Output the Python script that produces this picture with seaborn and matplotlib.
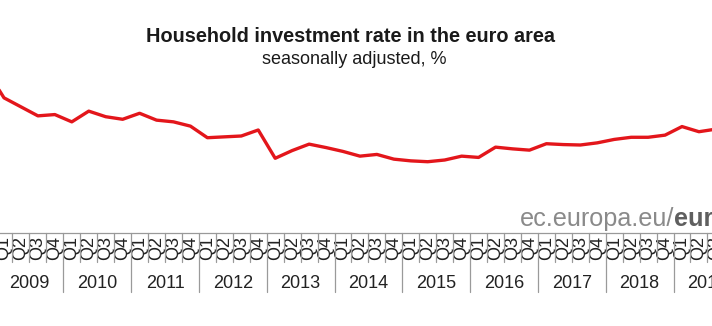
import matplotlib
matplotlib.use("Agg")
import matplotlib.pyplot as plt
import seaborn as sns
import pandas as pd

# ---- data ----
periods = ["2008Q4"] + [f"{y}Q{q}" for y in range(2009, 2020) for q in range(1, 5)][:43]
rate = [10.52,
        9.89, 9.68, 9.47, 9.50,
        9.33, 9.58, 9.45, 9.39,
        9.53, 9.37, 9.33, 9.23,
        8.96, 8.98, 9.00, 9.14,
        8.48, 8.66, 8.81, 8.73,
        8.64, 8.53, 8.57, 8.46,
        8.42, 8.40, 8.44, 8.53,
        8.50, 8.74, 8.70, 8.67,
        8.82, 8.80, 8.79, 8.84,
        8.92, 8.97, 8.97, 9.02,
        9.22, 9.10, 9.16]
quarter_labels = ["Q1", "Q2", "Q3", "Q4"]
years = list(range(2009, 2020))

df = pd.DataFrame({"idx": list(range(-1, len(rate) - 1)), "rate": rate})

sns.set_theme(style="white")
plt.rcParams["font.family"] = ["Liberation Sans", "DejaVu Sans"]

W, H = 712, 326
fig = plt.figure(figsize=(W / 100, H / 100), dpi=100)

# axes geometry in pixels
left_px, right_px = -30, 740
top_px, bottom_px = 60, 233
ax = fig.add_axes([left_px / W, 1 - bottom_px / H, (right_px - left_px) / W, (bottom_px - top_px) / H])

sns.lineplot(data=df, x="idx", y="rate", ax=ax, color="#e3161b", linewidth=2.4)

q_w = 16.95
x0 = 4.0
ax.set_xlim((left_px - x0) / q_w, (right_px - x0) / q_w)
ax.set_ylim(6.737, 10.773)

for s in ["top", "left", "right"]:
    ax.spines[s].set_visible(False)
ax.spines["bottom"].set_color("#999999")
ax.spines["bottom"].set_linewidth(0.9)
ax.set_yticks([])
ax.set_xlabel("")
ax.set_ylabel("")

# quarter tick labels
pos = list(range(0, 43))
labs = [quarter_labels[i % 4] for i in pos]
ax.set_xticks(pos, labs, rotation=90, fontsize=13, color="#222222")
ax.tick_params(axis="x", length=0, pad=2.5)

axh = bottom_px - top_px
# separators
for i in range(-1, 45):
    b = i - 0.5
    is_year = (i % 4 == 0)
    depth = (292 - bottom_px) / axh if is_year else (262 - bottom_px) / axh
    ax.axvline(b, ymin=-depth, ymax=0, color="#9a9a9a", linewidth=0.9, clip_on=False)

# year labels
for k, y in enumerate(years):
    ax.text(4 * k + 1.5, -(283.5 - bottom_px) / axh, str(y), transform=ax.get_xaxis_transform(),
            ha="center", va="center", fontsize=13, color="#222222")

# titles
fig.text(351 / W, 1 - 37 / H, "Household investment rate in the euro area", ha="center", va="center",
         fontsize=14.3, fontweight="bold", color="#1a1a1a")
fig.text(354 / W, 1 - 60 / H, "seasonally adjusted, %", ha="center", va="center",
         fontsize=13, color="#1a1a1a")

# source
t1 = fig.text(520 / W, 1 - 226 / H, "ec.europa.eu/", ha="left", va="baseline",
              fontsize=18.2, color="#8a8a8a")
fig.canvas.draw()
bb = t1.get_window_extent(renderer=fig.canvas.get_renderer())
fig.text(bb.x1 / W, 1 - 226 / H, "eurostat", ha="left", va="baseline",
         fontsize=18.2, fontweight="bold", color="#5f5f5f")

fig.savefig("out.png", dpi=100)
